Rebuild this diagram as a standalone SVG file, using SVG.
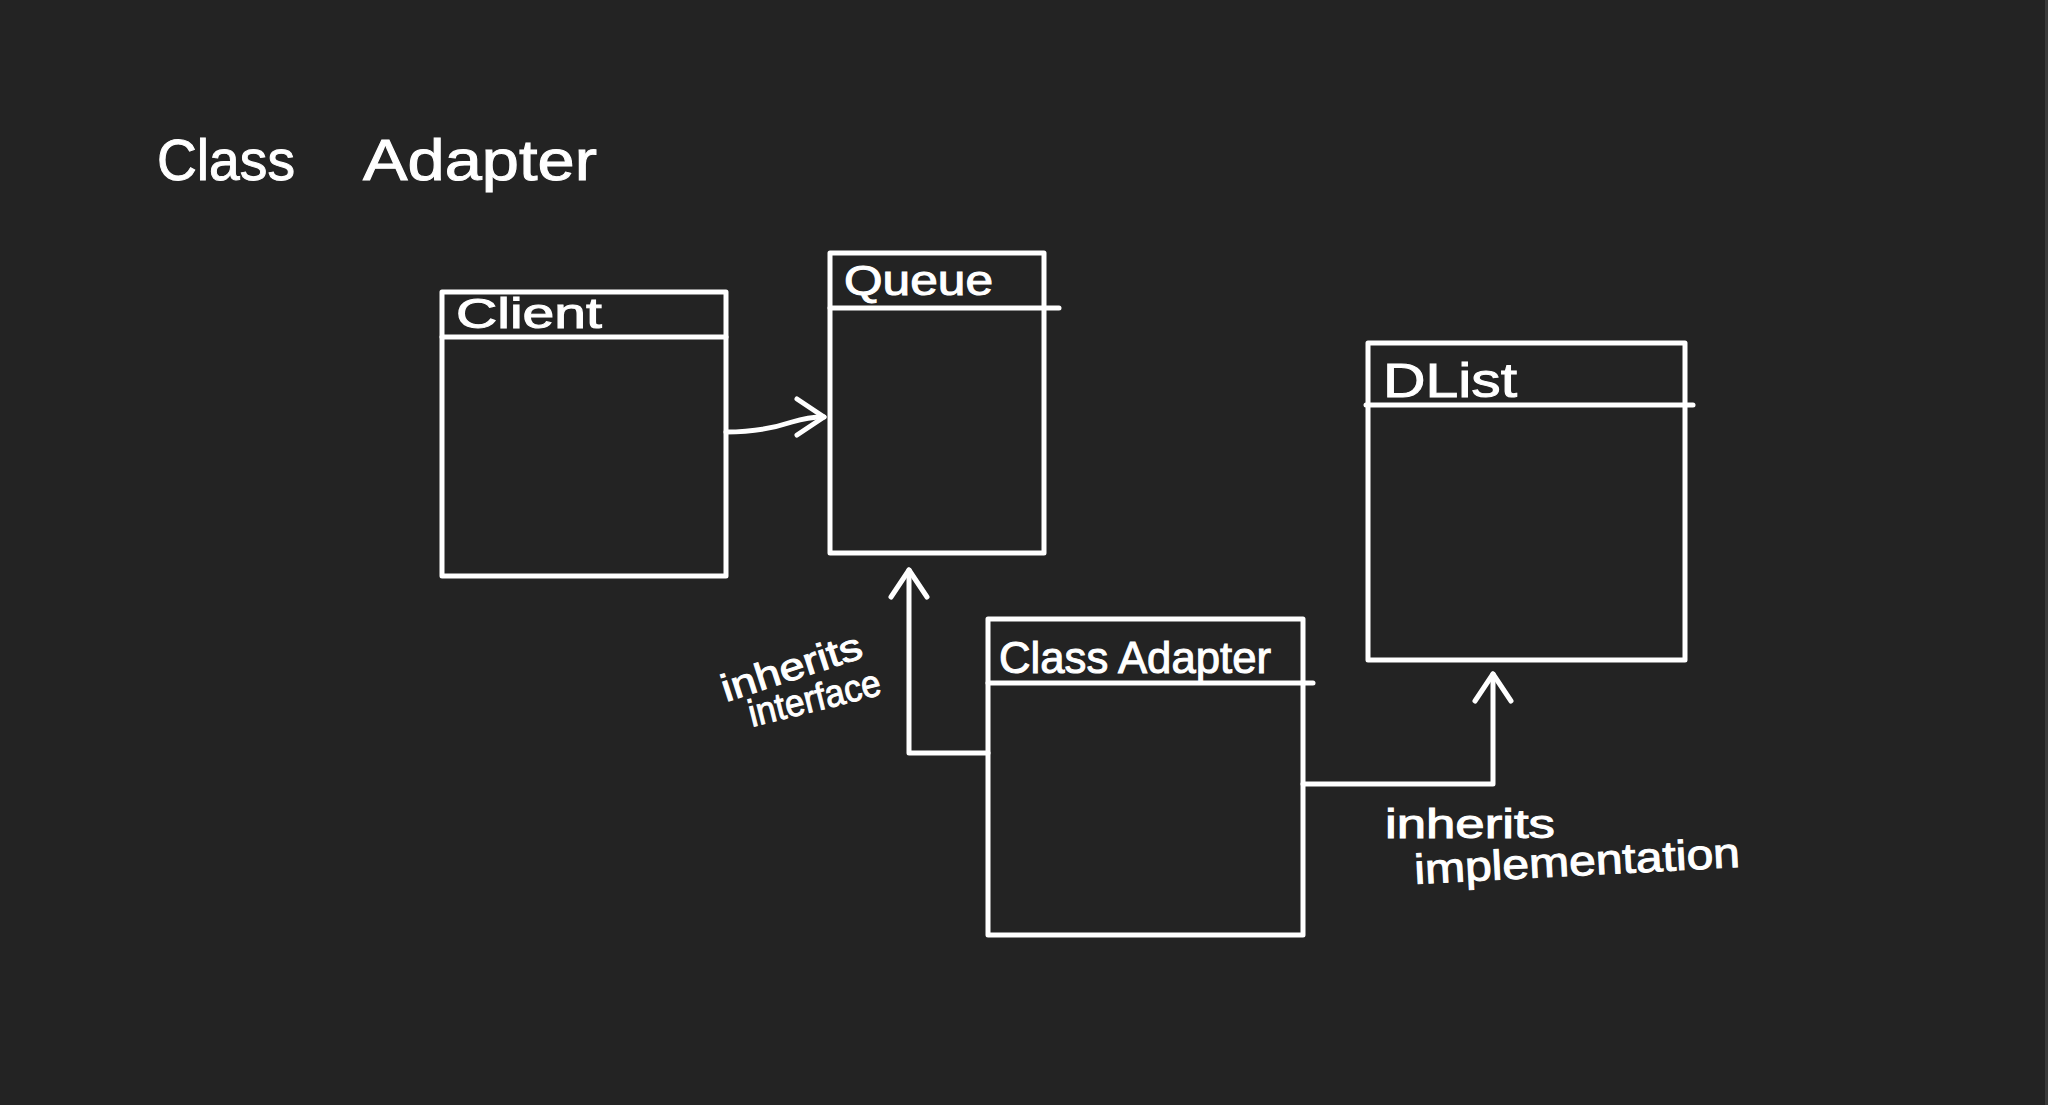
<svg xmlns="http://www.w3.org/2000/svg" width="2048" height="1105" viewBox="0 0 2048 1105">
  <style>
    .box { fill: none; stroke: #ffffff; stroke-width: 5; stroke-linejoin: round; }
    .hdr { fill: none; stroke: #ffffff; stroke-width: 5; stroke-linecap: round; }
    .conn { fill: none; stroke: #ffffff; stroke-width: 5; stroke-linecap: round; stroke-linejoin: round; }
    .lbl { fill: #ffffff; stroke: #ffffff; stroke-width: 1; font-family: "Liberation Sans", "DejaVu Sans", sans-serif; }
  </style>
  <defs>
    <marker id="openArrow" markerUnits="userSpaceOnUse" viewBox="-32 -24 38 48" refX="0" refY="0" markerWidth="38" markerHeight="48" orient="auto" overflow="visible">
      <path d="M-27,-18 L0,0 L-27,18" fill="none" stroke="#ffffff" stroke-width="5" stroke-linecap="round" stroke-linejoin="round"/>
    </marker>
  </defs>
  <rect x="0" y="0" width="2048" height="1105" fill="#232323"/>
  <rect x="2045" y="0" width="3" height="1105" fill="#3a3a3a"/>

  <text id="title" class="lbl" font-size="58" y="180"><tspan x="157" textLength="138" lengthAdjust="spacingAndGlyphs">Class</tspan><tspan x="363" textLength="234" lengthAdjust="spacingAndGlyphs">Adapter</tspan></text>

  <g id="client">
    <rect class="box" x="442" y="292" width="284" height="284"/>
    <line class="hdr" x1="442" y1="337" x2="726" y2="337"/>
    <text class="lbl" x="456" y="328" font-size="42" textLength="146" lengthAdjust="spacingAndGlyphs">Client</text>
  </g>

  <g id="queue">
    <rect class="box" x="830" y="253" width="214" height="300"/>
    <line class="hdr" x1="830" y1="308" x2="1059" y2="308"/>
    <text class="lbl" x="844" y="295" font-size="42" textLength="149" lengthAdjust="spacingAndGlyphs">Queue</text>
  </g>

  <g id="classAdapter">
    <rect class="box" x="988" y="619" width="315" height="316"/>
    <line class="hdr" x1="988" y1="683" x2="1313" y2="683"/>
    <text class="lbl" x="999" y="673" font-size="44" textLength="272" lengthAdjust="spacingAndGlyphs">Class Adapter</text>
  </g>

  <g id="dlist">
    <rect class="box" x="1368" y="343" width="317" height="317"/>
    <line class="hdr" x1="1366" y1="405" x2="1693" y2="405"/>
    <text class="lbl" x="1383" y="397" font-size="48" textLength="134" lengthAdjust="spacingAndGlyphs">DList</text>
  </g>

  <g id="connectors">
    <path class="conn" d="M726,432 Q762,432 792,422 Q808,417 824,417" marker-end="url(#openArrow)"/>
    <path class="conn" d="M988,753 L909,753 L909,570" marker-end="url(#openArrow)"/>
    <path class="conn" d="M1303,784 L1493,784 L1493,674" marker-end="url(#openArrow)"/>
  </g>

  <g id="labels">
    <text class="lbl" font-size="38" transform="translate(726,702) rotate(-18)" textLength="146" lengthAdjust="spacingAndGlyphs">inherits</text>
    <text class="lbl" font-size="38" transform="translate(752,727) rotate(-14)" textLength="135" lengthAdjust="spacingAndGlyphs">interface</text>
    <text class="lbl" font-size="40" x="1385" y="838" textLength="170" lengthAdjust="spacingAndGlyphs">inherits</text>
    <text class="lbl" font-size="42" transform="translate(1415,884) rotate(-3)" textLength="326" lengthAdjust="spacingAndGlyphs">implementation</text>
  </g>
</svg>
